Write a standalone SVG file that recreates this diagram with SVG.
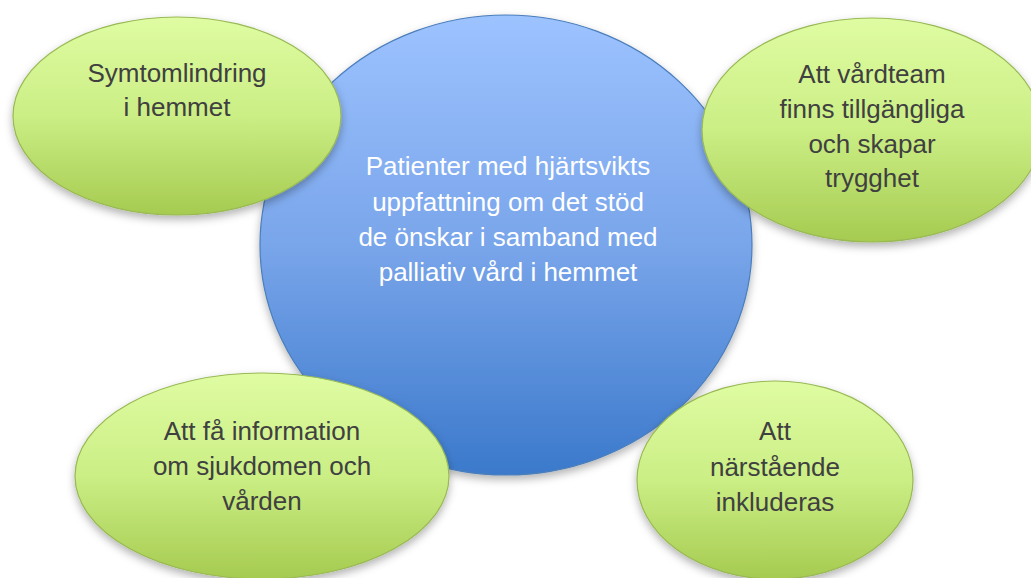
<svg xmlns="http://www.w3.org/2000/svg" width="1031" height="578" viewBox="0 0 1031 578">
  <style>
    .lbl { font-family: "Liberation Sans", Arial, sans-serif; font-size: 26px; text-anchor: middle; fill: #404040; }
    .center { fill: #ffffff; }
    .green { fill: url(#gGreen); stroke: #98b954; stroke-width: 1.2; filter: url(#shadow); }
    .blue { fill: url(#gBlue); stroke: #4a7ebb; stroke-width: 1.2; filter: url(#shadow); }
  </style>
  <defs>
    <linearGradient id="gGreen" x1="0" y1="0" x2="0" y2="1">
      <stop offset="0" stop-color="#dffca2"/>
      <stop offset="0.5" stop-color="#cbee85"/>
      <stop offset="1" stop-color="#a6cb50"/>
    </linearGradient>
    <linearGradient id="gBlue" x1="0" y1="0" x2="0" y2="1">
      <stop offset="0" stop-color="#9dc3ff"/>
      <stop offset="0.5" stop-color="#79a5ea"/>
      <stop offset="1" stop-color="#3b79cb"/>
    </linearGradient>
    <filter id="shadow" x="-20%" y="-20%" width="140%" height="150%">
      <feDropShadow dx="0" dy="4" stdDeviation="4" flood-color="#000000" flood-opacity="0.3"/>
    </filter>
  </defs>
  <rect width="1031" height="578" fill="#ffffff"/>
  <g id="connectors"></g>
  <g id="node-center">
    <ellipse class="blue" cx="506" cy="245" rx="246" ry="230"/>
    <text class="lbl center" x="508"><tspan x="508" y="175">Patienter med hjärtsvikts</tspan><tspan x="508" y="211">uppfattning om det stöd</tspan><tspan x="508" y="246">de önskar i samband med</tspan><tspan x="508" y="281">palliativ vård i hemmet</tspan></text>
  </g>
  <g id="node-symtom">
    <ellipse class="green" cx="177" cy="116" rx="164" ry="99"/>
    <text class="lbl"><tspan x="177" y="82">Symtomlindring</tspan><tspan x="177" y="116">i hemmet</tspan></text>
  </g>
  <g id="node-vardteam">
    <ellipse class="green" cx="872" cy="130" rx="170" ry="112"/>
    <text class="lbl"><tspan x="872" y="83">Att vårdteam</tspan><tspan x="872" y="118">finns tillgängliga</tspan><tspan x="872" y="153">och skapar</tspan><tspan x="872" y="187">trygghet</tspan></text>
  </g>
  <g id="node-information">
    <ellipse class="green" cx="262" cy="476" rx="187" ry="103"/>
    <text class="lbl"><tspan x="262" y="440">Att få information</tspan><tspan x="262" y="475">om sjukdomen och</tspan><tspan x="262" y="510">vården</tspan></text>
  </g>
  <g id="node-narstaende">
    <ellipse class="green" cx="775" cy="480" rx="138" ry="99"/>
    <text class="lbl"><tspan x="775" y="440">Att</tspan><tspan x="775" y="476">närstående</tspan><tspan x="775" y="511">inkluderas</tspan></text>
  </g>
</svg>
